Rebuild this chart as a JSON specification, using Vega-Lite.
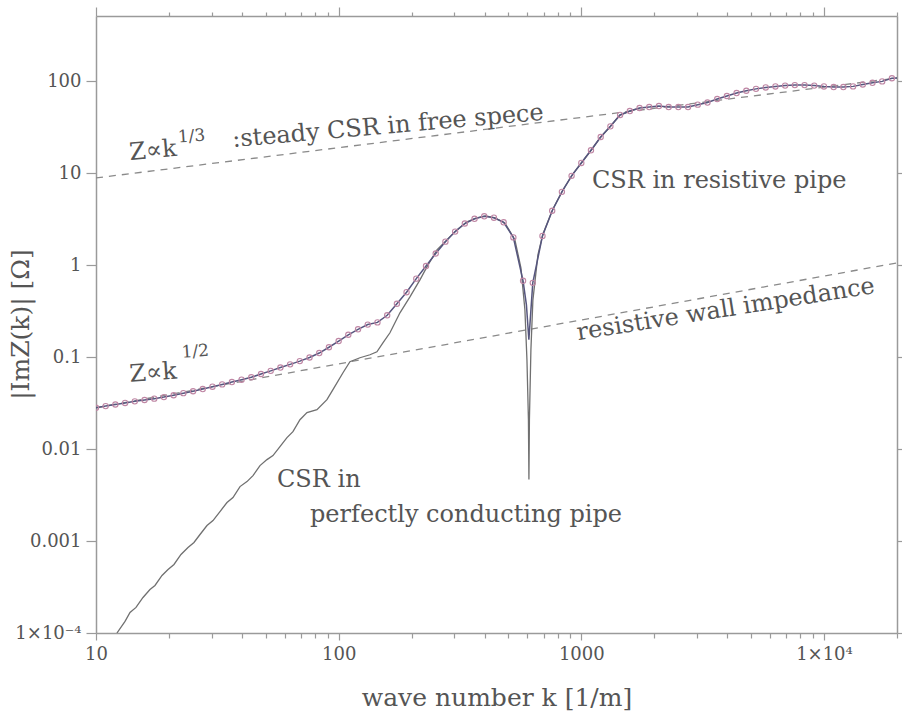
{
  "$schema": "https://vega.github.io/schema/vega-lite/v6.json",
  "width": 801,
  "height": 617,
  "autosize": {"type": "none"},
  "padding": {"left": 96, "top": 16, "right": 5, "bottom": 80},
  "background": "white",
  "config": {
    "view": {"stroke": null},
    "axis": {
      "domainColor": "#9a9a9a", "domainWidth": 1.5,
      "tickColor": "#9a9a9a", "tickWidth": 1.2,
      "labelColor": "#555555", "labelFont": "DejaVu Serif", "labelFontSize": 18,
      "titleColor": "#555555", "titleFont": "DejaVu Serif", "titleFontSize": 25, "titleFontWeight": "normal",
      "grid": false, "labelOverlap": false, "labelFlush": false
    }
  },
  "datasets": {
    "resistive_pts": [
      {"k": 10, "z": 0.0281}, {"k": 10.96, "z": 0.0293}, {"k": 12.02, "z": 0.0305}, {"k": 13.18, "z": 0.0317},
      {"k": 14.45, "z": 0.0330}, {"k": 15.85, "z": 0.0341}, {"k": 17.38, "z": 0.0353}, {"k": 19.05, "z": 0.0367},
      {"k": 20.89, "z": 0.0384}, {"k": 22.91, "z": 0.0405}, {"k": 25.12, "z": 0.0425}, {"k": 27.54, "z": 0.0449},
      {"k": 30.2, "z": 0.0476}, {"k": 33.11, "z": 0.0504}, {"k": 36.31, "z": 0.0535}, {"k": 39.81, "z": 0.0567},
      {"k": 43.65, "z": 0.0602}, {"k": 47.86, "z": 0.0654}, {"k": 52.48, "z": 0.0708}, {"k": 57.54, "z": 0.0769},
      {"k": 63.1, "z": 0.0833}, {"k": 69.18, "z": 0.0903}, {"k": 75.86, "z": 0.0988}, {"k": 83.18, "z": 0.1105},
      {"k": 91.2, "z": 0.1278}, {"k": 100, "z": 0.1492}, {"k": 109.6, "z": 0.1746}, {"k": 120.2, "z": 0.2003},
      {"k": 131.8, "z": 0.2254}, {"k": 144.5, "z": 0.2380}, {"k": 158.5, "z": 0.2843}, {"k": 173.8, "z": 0.3791},
      {"k": 190.5, "z": 0.5067}, {"k": 208.9, "z": 0.7117}, {"k": 229.1, "z": 0.975}, {"k": 251.2, "z": 1.336},
      {"k": 275.4, "z": 1.796}, {"k": 302, "z": 2.311}, {"k": 331.1, "z": 2.829}, {"k": 363.1, "z": 3.183},
      {"k": 398.1, "z": 3.388}, {"k": 436.5, "z": 3.271}, {"k": 478.6, "z": 2.915}, {"k": 524.8, "z": 1.999},
      {"k": 575.4, "z": 0.674}, {"k": 631, "z": 0.641}, {"k": 691.8, "z": 2.075}, {"k": 758.6, "z": 3.896},
      {"k": 831.8, "z": 6.251}, {"k": 912, "z": 9.324}, {"k": 1000, "z": 12.88}, {"k": 1096, "z": 17.69},
      {"k": 1202, "z": 24.66}, {"k": 1318, "z": 32.22}, {"k": 1445, "z": 42.85}, {"k": 1585, "z": 47.24},
      {"k": 1738, "z": 50.92}, {"k": 1905, "z": 52.21}, {"k": 2089, "z": 53.54}, {"k": 2291, "z": 52.21},
      {"k": 2512, "z": 52.21}, {"k": 2754, "z": 52.21}, {"k": 3020, "z": 55.44}, {"k": 3311, "z": 58.43},
      {"k": 3631, "z": 63.76}, {"k": 3981, "z": 68.89}, {"k": 4365, "z": 74.09}, {"k": 4786, "z": 78.48},
      {"k": 5248, "z": 82.3}, {"k": 5754, "z": 85.23}, {"k": 6310, "z": 87.39}, {"k": 6918, "z": 89.37},
      {"k": 7586, "z": 90.49}, {"k": 8318, "z": 90.49}, {"k": 9120, "z": 89.37}, {"k": 10000, "z": 87.39},
      {"k": 10965, "z": 86.09}, {"k": 12023, "z": 86.09}, {"k": 13183, "z": 87.59}, {"k": 14454, "z": 91.86},
      {"k": 15849, "z": 95.83}, {"k": 17378, "z": 99.24}, {"k": 19055, "z": 107.3}
    ],
    "resistive_line": [
      {"k": 10, "z": 0.0281}, {"k": 10.96, "z": 0.0293}, {"k": 12.02, "z": 0.0305}, {"k": 13.18, "z": 0.0317},
      {"k": 14.45, "z": 0.0330}, {"k": 15.85, "z": 0.0341}, {"k": 17.38, "z": 0.0353}, {"k": 19.05, "z": 0.0367},
      {"k": 20.89, "z": 0.0384}, {"k": 22.91, "z": 0.0405}, {"k": 25.12, "z": 0.0425}, {"k": 27.54, "z": 0.0449},
      {"k": 30.2, "z": 0.0476}, {"k": 33.11, "z": 0.0504}, {"k": 36.31, "z": 0.0535}, {"k": 39.81, "z": 0.0567},
      {"k": 43.65, "z": 0.0602}, {"k": 47.86, "z": 0.0654}, {"k": 52.48, "z": 0.0708}, {"k": 57.54, "z": 0.0769},
      {"k": 63.1, "z": 0.0833}, {"k": 69.18, "z": 0.0903}, {"k": 75.86, "z": 0.0988}, {"k": 83.18, "z": 0.1105},
      {"k": 91.2, "z": 0.1278}, {"k": 100, "z": 0.1492}, {"k": 109.6, "z": 0.1746}, {"k": 120.2, "z": 0.2003},
      {"k": 131.8, "z": 0.2254}, {"k": 144.5, "z": 0.2380}, {"k": 158.5, "z": 0.2843}, {"k": 173.8, "z": 0.3791},
      {"k": 190.5, "z": 0.5067}, {"k": 208.9, "z": 0.7117}, {"k": 229.1, "z": 0.975}, {"k": 251.2, "z": 1.336},
      {"k": 275.4, "z": 1.796}, {"k": 302, "z": 2.311}, {"k": 331.1, "z": 2.829}, {"k": 363.1, "z": 3.183},
      {"k": 398.1, "z": 3.388}, {"k": 436.5, "z": 3.271}, {"k": 478.6, "z": 2.915}, {"k": 524.8, "z": 1.999},
      {"k": 575.4, "z": 0.674}, {"k": 594, "z": 0.37}, {"k": 608, "z": 0.154}, {"k": 620, "z": 0.326},
      {"k": 631, "z": 0.641}, {"k": 691.8, "z": 2.075}, {"k": 758.6, "z": 3.896},
      {"k": 831.8, "z": 6.251}, {"k": 912, "z": 9.324}, {"k": 1000, "z": 12.88}, {"k": 1096, "z": 17.69},
      {"k": 1202, "z": 24.66}, {"k": 1318, "z": 32.22}, {"k": 1445, "z": 42.85}, {"k": 1585, "z": 47.24},
      {"k": 1738, "z": 50.92}, {"k": 1905, "z": 52.21}, {"k": 2089, "z": 53.54}, {"k": 2291, "z": 52.21},
      {"k": 2512, "z": 52.21}, {"k": 2754, "z": 52.21}, {"k": 3020, "z": 55.44}, {"k": 3311, "z": 58.43},
      {"k": 3631, "z": 63.76}, {"k": 3981, "z": 68.89}, {"k": 4365, "z": 74.09}, {"k": 4786, "z": 78.48},
      {"k": 5248, "z": 82.3}, {"k": 5754, "z": 85.23}, {"k": 6310, "z": 87.39}, {"k": 6918, "z": 89.37},
      {"k": 7586, "z": 90.49}, {"k": 8318, "z": 90.49}, {"k": 9120, "z": 89.37}, {"k": 10000, "z": 87.39},
      {"k": 10965, "z": 86.09}, {"k": 12023, "z": 86.09}, {"k": 13183, "z": 87.59}, {"k": 14454, "z": 91.86},
      {"k": 15849, "z": 95.83}, {"k": 17378, "z": 99.24}, {"k": 19055, "z": 107.3}, {"k": 20000, "z": 108}
    ],
    "perfect": [
      {"k": 12.2, "z": 0.0001}, {"k": 13.17, "z": 0.0001336}, {"k": 13.81, "z": 0.0001674}, {"k": 14.62, "z": 0.0001897},
      {"k": 15.62, "z": 0.0002435}, {"k": 16.69, "z": 0.0002974}, {"k": 17.5, "z": 0.0003287}, {"k": 18.71, "z": 0.000422},
      {"k": 19.81, "z": 0.0004905}, {"k": 20.96, "z": 0.0005556}, {"k": 22.4, "z": 0.0007136}, {"k": 23.94, "z": 0.00085},
      {"k": 25.34, "z": 0.0009632}, {"k": 26.83, "z": 0.001177}, {"k": 28.67, "z": 0.001474}, {"k": 30.35, "z": 0.00167},
      {"k": 32.43, "z": 0.002091}, {"k": 34.66, "z": 0.002618}, {"k": 36.69, "z": 0.002968}, {"k": 39.21, "z": 0.003905},
      {"k": 41.9, "z": 0.004426}, {"k": 44.36, "z": 0.005142}, {"k": 47.4, "z": 0.006604}, {"k": 50.65, "z": 0.007671},
      {"k": 53.62, "z": 0.008481}, {"k": 57.3, "z": 0.01062}, {"k": 61.24, "z": 0.0133}, {"k": 64.81, "z": 0.01545},
      {"k": 69.27, "z": 0.02085}, {"k": 74.04, "z": 0.02485}, {"k": 81.41, "z": 0.02678}, {"k": 89.49, "z": 0.03439},
      {"k": 94.73, "z": 0.04416}, {"k": 104.2, "z": 0.06755}, {"k": 111.3, "z": 0.0889}, {"k": 122.4, "z": 0.09826},
      {"k": 134.6, "z": 0.1059}, {"k": 143.8, "z": 0.1142}, {"k": 152.2, "z": 0.1429}, {"k": 162.7, "z": 0.1836},
      {"k": 178.9, "z": 0.3027}, {"k": 196.7, "z": 0.4516}, {"k": 216.3, "z": 0.6908}, {"k": 231.1, "z": 0.956},
      {"k": 254.1, "z": 1.462}, {"k": 279.4, "z": 1.877}, {"k": 307.2, "z": 2.411}, {"k": 337.8, "z": 2.944},
      {"k": 371.4, "z": 3.254}, {"k": 404.6, "z": 3.421}, {"k": 440.6, "z": 3.254}, {"k": 484.4, "z": 2.872},
      {"k": 532.6, "z": 1.877}, {"k": 563.8, "z": 0.9324}, {"k": 585.6, "z": 0.3263}, {"k": 597, "z": 0.0935},
      {"k": 605.5, "z": 0.02085}, {"k": 608.3, "z": 0.004653}, {"k": 611.2, "z": 0.02085}, {"k": 619.9, "z": 0.1201},
      {"k": 631.8, "z": 0.4189}, {"k": 662.5, "z": 1.29}, {"k": 694.9, "z": 2.182}, {"k": 763.9, "z": 4.076},
      {"k": 840.1, "z": 6.553}, {"k": 923.6, "z": 9.777}, {"k": 1015, "z": 13.53}, {"k": 1116, "z": 18.73},
      {"k": 1193, "z": 24.05}, {"k": 1312, "z": 31.66}, {"k": 1442, "z": 42.74}, {"k": 1586, "z": 47.24},
      {"k": 1744, "z": 50.92}
    ]
  },
  "resolve": {"axis": {"x": "independent", "y": "independent"}},
  "layer": [
    {
      "data": {"values": [{"k": 10, "z": 8.85}, {"k": 20000, "z": 108}]},
      "mark": {"type": "line", "color": "#8a8a8a", "strokeWidth": 1.3, "strokeDash": [7, 6], "clip": true},
      "encoding": {
        "x": {"field": "k", "type": "quantitative", "scale": {"type": "log", "domain": [10, 20000], "nice": false},
          "axis": {"orient": "bottom", "title": "wave number k [1/m]", "titleY": 72, "titleBaseline": "alphabetic",
            "values": [10,20,30,40,50,60,70,80,90,100,200,300,400,500,600,700,800,900,1000,2000,3000,4000,5000,6000,7000,8000,9000,10000,20000],
            "labelExpr": "datum.value==10?'10':datum.value==100?'100':datum.value==1000?'1000':datum.value==10000?'1×10⁴':''",
            "tickSize": {"condition": {"test": "datum.value==10||datum.value==100||datum.value==1000||datum.value==10000", "value": 7}, "value": 5},
            "labelPadding": 5}},
        "y": {"field": "z", "type": "quantitative", "scale": {"type": "log", "domain": [0.0001, 510], "nice": false},
          "axis": {"orient": "left", "title": "|ImZ(k)| [Ω]", "titleX": -76, "titleY": 308, "titleAngle": -90,
            "titleAlign": "center", "titleBaseline": "middle",
            "values": [0.0001, 0.001, 0.01, 0.1, 1, 10, 100],
            "labelExpr": "datum.value<0.0005?'1×10⁻⁴':datum.value<0.005?'0.001':datum.value<0.05?'0.01':datum.value<0.5?'0.1':datum.value<5?'1':datum.value<50?'10':'100'",
            "tickSize": 10, "labelPadding": 5}}
      }
    },
    {
      "data": {"values": [{"k": 10, "z": 0.0281}, {"k": 20000, "z": 1.056}]},
      "mark": {"type": "line", "color": "#8a8a8a", "strokeWidth": 1.3, "strokeDash": [7, 6], "clip": true},
      "encoding": {
        "x": {"field": "k", "type": "quantitative",
          "axis": {"orient": "top", "title": null, "labels": false,
            "values": [10,20,30,40,50,60,70,80,90,100,200,300,400,500,600,700,800,900,1000,2000,3000,4000,5000,6000,7000,8000,9000,10000,20000],
            "tickSize": {"condition": {"test": "datum.value==10||datum.value==100||datum.value==1000||datum.value==10000", "value": 9}, "value": 4}}},
        "y": {"field": "z", "type": "quantitative",
          "axis": {"orient": "right", "title": null, "labels": false, "values": [0.0001, 0.001, 0.01, 0.1, 1, 10, 100], "tickSize": 8}}
      }
    },
    {
      "data": {"name": "perfect"},
      "mark": {"type": "line", "color": "#707070", "strokeWidth": 1.3, "clip": true},
      "encoding": {
        "x": {"field": "k", "type": "quantitative", "axis": null},
        "y": {"field": "z", "type": "quantitative", "axis": null}
      }
    },
    {
      "data": {"name": "resistive_line"},
      "mark": {"type": "line", "color": "#56567e", "strokeWidth": 1.5, "clip": true},
      "encoding": {
        "x": {"field": "k", "type": "quantitative", "axis": null},
        "y": {"field": "z", "type": "quantitative", "axis": null}
      }
    },
    {
      "data": {"name": "resistive_pts"},
      "mark": {"type": "point", "shape": "circle", "filled": false, "size": 28, "stroke": "#bf86a4", "strokeWidth": 1.1, "opacity": 1, "clip": true},
      "encoding": {
        "x": {"field": "k", "type": "quantitative", "axis": null},
        "y": {"field": "z", "type": "quantitative", "axis": null}
      }
    },
    {
      "data": {"values": [
        {"k": 13.8, "z": 13.9, "t": "Z∝k"},
        {"k": 36.7, "z": 19.2, "t": ":steady CSR in free spece"}
      ]},
      "mark": {"type": "text", "font": "DejaVu Serif", "fontSize": 24, "color": "#555555", "align": "left", "baseline": "alphabetic", "angle": -5},
      "encoding": {
        "x": {"field": "k", "type": "quantitative", "axis": null},
        "y": {"field": "z", "type": "quantitative", "axis": null},
        "text": {"field": "t"}
      }
    },
    {
      "data": {"values": [
        {"k": 13.8, "z": 0.0539, "t": "Z∝k"}
      ]},
      "mark": {"type": "text", "font": "DejaVu Serif", "fontSize": 24, "color": "#555555", "align": "left", "baseline": "alphabetic", "angle": -4},
      "encoding": {
        "x": {"field": "k", "type": "quantitative", "axis": null},
        "y": {"field": "z", "type": "quantitative", "axis": null},
        "text": {"field": "t"}
      }
    },
    {
      "data": {"values": [
        {"k": 21.8, "z": 21.5, "t": "1/3"},
        {"k": 22.6, "z": 0.0983, "t": "1/2"}
      ]},
      "mark": {"type": "text", "font": "DejaVu Serif", "fontSize": 17, "color": "#555555", "align": "left", "baseline": "alphabetic", "angle": -4},
      "encoding": {
        "x": {"field": "k", "type": "quantitative", "axis": null},
        "y": {"field": "z", "type": "quantitative", "axis": null},
        "text": {"field": "t"}
      }
    },
    {
      "data": {"values": [
        {"k": 1106, "z": 6.89, "t": "CSR in resistive pipe"},
        {"k": 55.7, "z": 0.00391, "t": "CSR in"},
        {"k": 76.2, "z": 0.00159, "t": "perfectly conducting pipe"}
      ]},
      "mark": {"type": "text", "font": "DejaVu Serif", "fontSize": 24, "color": "#555555", "align": "left", "baseline": "alphabetic"},
      "encoding": {
        "x": {"field": "k", "type": "quantitative", "axis": null},
        "y": {"field": "z", "type": "quantitative", "axis": null},
        "text": {"field": "t"}
      }
    },
    {
      "data": {"values": [
        {"k": 968, "z": 0.1527, "t": "resistive wall impedance"}
      ]},
      "mark": {"type": "text", "font": "DejaVu Serif", "fontSize": 24, "color": "#555555", "align": "left", "baseline": "alphabetic", "angle": -9},
      "encoding": {
        "x": {"field": "k", "type": "quantitative", "axis": null},
        "y": {"field": "z", "type": "quantitative", "axis": null},
        "text": {"field": "t"}
      }
    }
  ]
}
